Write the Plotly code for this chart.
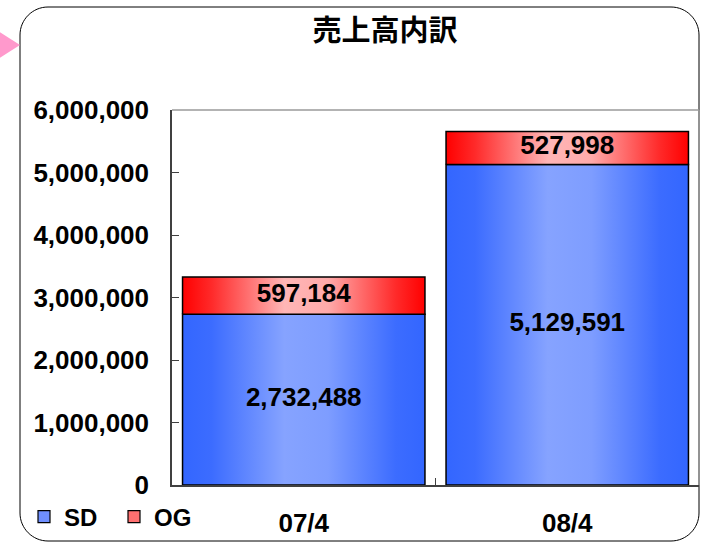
import plotly.graph_objects as go

categories = ["07/4", "08/4"]
sd_values = [2732488, 5129591]
og_values = [597184, 527998]
series_names = ["SD", "OG"]
y_ticks = [0, 1000000, 2000000, 3000000, 4000000, 5000000, 6000000]
title_text = "売上高内訳"

W, H = 708, 542
L, R, T, B = 172, 9, 110, 57
PW, PH = W - L - R, H - T - B


def px_x(px):
    return (px - L) / PW


def px_y(py):
    return (H - B - py) / PH


blue_scale = [[0, "#3366FF"], [0.12, "#3C6CFF"], [0.42, "#86A3FF"], [0.6, "#7E9DFF"], [0.88, "#3C6CFF"], [1, "#3366FF"]]
red_scale = [[0, "#FF0000"], [0.12, "#FF2A2A"], [0.42, "#FFB6B6"], [0.6, "#FFAAAA"], [0.88, "#FF2A2A"], [1, "#FF0000"]]
blue_mid = "#6F8FFF"
red_mid = "#FF7070"

FONT = "Liberation Sans, Arial, sans-serif"
FS = 26
half_w = 0.46

fig = go.Figure()

xs = list(range(len(categories)))
series = [
    (series_names[0], sd_values, [0] * len(sd_values), blue_scale),
    (series_names[1], og_values, sd_values, red_scale),
]
for name, vals, bases, scale in series:
    for i, (v, b) in enumerate(zip(vals, bases)):
        fig.add_trace(go.Scatter(
            x=[i - half_w, i + half_w, i + half_w, i - half_w, i - half_w],
            y=[b, b, b + v, b + v, b],
            mode="lines",
            fill="toself",
            fillgradient=dict(type="horizontal", colorscale=scale),
            line=dict(color="black", width=1.5),
            showlegend=False,
            hoverinfo="skip",
        ))
    fig.add_trace(go.Scatter(
        x=xs,
        y=[b + v / 2 for v, b in zip(vals, bases)],
        mode="text",
        text=[f"{v:,}" for v in vals],
        textfont=dict(family=FONT, size=FS, color="black", weight="bold"),
        showlegend=False,
        hoverinfo="skip",
    ))

# legend entries
for name, col in zip(series_names, [blue_mid, red_mid]):
    fig.add_trace(go.Bar(
        x=[None], y=[None], name=name,
        marker=dict(color=col, line=dict(color="black", width=1.2)),
    ))

shapes = []
# rounded frame
l, r, t, b, rad = 20, 699, 7, 541, 28
k = 0.552 * rad
path = (
    f"M {px_x(l + rad)},{px_y(t)} L {px_x(r - rad)},{px_y(t)} "
    f"C {px_x(r - rad + k)},{px_y(t)} {px_x(r)},{px_y(t + rad - k)} {px_x(r)},{px_y(t + rad)} "
    f"L {px_x(r)},{px_y(b - rad)} "
    f"C {px_x(r)},{px_y(b - rad + k)} {px_x(r - rad + k)},{px_y(b)} {px_x(r - rad)},{px_y(b)} "
    f"L {px_x(l + rad)},{px_y(b)} "
    f"C {px_x(l + rad - k)},{px_y(b)} {px_x(l)},{px_y(b - rad + k)} {px_x(l)},{px_y(b - rad)} "
    f"L {px_x(l)},{px_y(t + rad)} "
    f"C {px_x(l)},{px_y(t + rad - k)} {px_x(l + rad - k)},{px_y(t)} {px_x(l + rad)},{px_y(t)} Z"
)
shapes.append(dict(type="path", xref="paper", yref="paper", path=path,
                   line=dict(color="black", width=1), layer="below"))
# pink arrow
tri = f"M {px_x(-2)},{px_y(31)} L {px_x(20)},{px_y(45)} L {px_x(-2)},{px_y(59)} Z"
shapes.append(dict(type="path", xref="paper", yref="paper", path=tri,
                   fillcolor="#FF99CC", line=dict(width=0)))
# top & right frame of plot area
shapes.append(dict(type="line", xref="paper", yref="paper", x0=0, x1=1, y0=1, y1=1,
                   line=dict(color="#9A9A9A", width=1.5)))
shapes.append(dict(type="line", xref="paper", yref="paper", x0=1, x1=1, y0=0, y1=1,
                   line=dict(color="#9A9A9A", width=1.5)))

fig.update_layout(
    width=W, height=H,
    margin=dict(l=L, r=R, t=T, b=B, pad=0, autoexpand=False),
    paper_bgcolor="white",
    plot_bgcolor="white",
    font=dict(family=FONT, color="black"),
    title=dict(text=title_text, x=385 / W, xanchor="center", xref="container",
               y=1 - 31 / H, yanchor="middle", yref="container",
               font=dict(family="Noto Sans CJK JP", size=29, color="black", weight="bold")),
    shapes=shapes,
    showlegend=True,
    legend=dict(orientation="h", xref="container", yref="container",
                x=24 / W, xanchor="left", y=1 - 517 / H, yanchor="middle",
                font=dict(family=FONT, size=24, color="black", weight="bold"),
                bgcolor="rgba(0,0,0,0)", itemwidth=30, traceorder="normal",
                entrywidth=45, entrywidthmode="pixels"),
    xaxis=dict(
        range=[-0.5, len(categories) - 0.5],
        tickmode="array", tickvals=xs, ticktext=categories,
        ticks="", showline=True, linecolor="#404040", linewidth=1.5,
        showgrid=False, zeroline=False, fixedrange=True, automargin=False,
        tickfont=dict(family=FONT, size=FS, color="black", weight="bold"),
        ticklabelstandoff=14,
        minor=dict(tickmode="array", tickvals=[i + 0.5 for i in xs[:-1]], ticks="inside",
                   ticklen=7, tickcolor="#404040", tickwidth=1, showgrid=False),
    ),
    yaxis=dict(
        range=[0, 6000000],
        tickmode="array", tickvals=y_ticks, tickformat=",",
        ticks="inside", ticklen=7, tickcolor="#404040", tickwidth=1,
        showline=True, linecolor="#404040", linewidth=1.5,
        showgrid=False, zeroline=False, fixedrange=True, automargin=False,
        tickfont=dict(family=FONT, size=FS, color="black", weight="bold"),
        ticklabelstandoff=16,
    ),
)

fig.write_html("out.html", config={"displayModeBar": False},
               post_script="document.body.style.margin='0';")
